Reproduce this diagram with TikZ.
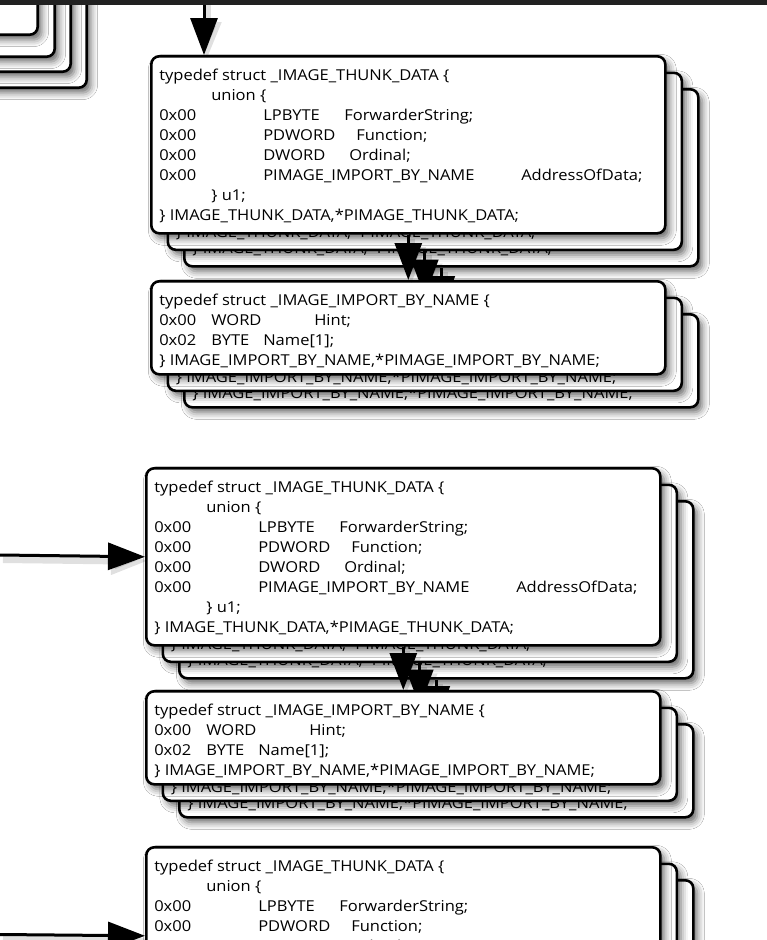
\documentclass[tikz,border=0pt]{standalone}
\usepackage{fontspec}
\setmainfont[FakeStretch=1.1]{Open Sans}
\usetikzlibrary{arrows.meta,shadows.blur}

\newcommand{\thunktext}{%
  \parbox[t]{498pt}{\fontsize{15pt}{20pt}\selectfont
    typedef struct \_IMAGE\_THUNK\_DATA \{\\
    \hspace*{52pt}union \{\\
    \makebox[104pt][l]{0x00}\makebox[81pt][l]{LPBYTE}ForwarderString;\\
    \makebox[104pt][l]{0x00}\makebox[93pt][l]{PDWORD}Function;\\
    \makebox[104pt][l]{0x00}\makebox[86pt][l]{DWORD}Ordinal;\\
    \makebox[104pt][l]{0x00}\makebox[258pt][l]{PIMAGE\_IMPORT\_BY\_NAME}AddressOfData;\\
    \hspace*{52pt}\} u1;\\
    \} IMAGE\_THUNK\_DATA,*PIMAGE\_THUNK\_DATA;}}

\newcommand{\nametext}{%
  \parbox[t]{498pt}{\fontsize{15pt}{20pt}\selectfont
    typedef struct \_IMAGE\_IMPORT\_BY\_NAME \{\\
    \makebox[52pt][l]{0x00}\makebox[103pt][l]{WORD}Hint;\\
    \makebox[52pt][l]{0x02}\makebox[52pt][l]{BYTE}Name[1];\\
    \} IMAGE\_IMPORT\_BY\_NAME,*PIMAGE\_IMPORT\_BY\_NAME;}}

\tikzset{
  structbox/.style={draw=black, line width=2.6pt, rounded corners=8pt, fill=white,
    inner xsep=8pt, inner ysep=0pt, anchor=north west,
    blur shadow={shadow xshift=4pt, shadow yshift=-5pt, shadow blur radius=7pt, shadow opacity=60}},
  thunkbox/.style={structbox, text height=24.5pt, text depth=152.5pt},
  namebox/.style={structbox, text height=24.5pt, text depth=68.5pt},
  ptr/.style={line width=3pt, -{Triangle[length=37pt,width=27pt]},
    preaction={draw=black, opacity=0.12, line width=8pt, transform canvas={shift={(3pt,-4pt)}}}}
}

\begin{document}
\begin{tikzpicture}[x=1pt, y=-1pt]
    \useasboundingbox (0,0) rectangle (767,940);
    \fill[white] (0,0) rectangle (767,940);

    % Stack cut off at the top left
    \node[structbox, anchor=south east, minimum width=300pt, minimum height=200pt] (L4) at (88,89) {};
    \node[structbox, anchor=south east, minimum width=300pt, minimum height=200pt] (L3) at (72,73) {};
    \node[structbox, anchor=south east, minimum width=300pt, minimum height=200pt] (L2) at (56,58) {};
    \node[structbox, anchor=south east, minimum width=300pt, minimum height=200pt] (L1) at (39,36) {};

    % First pair of stacks (back layers first)
    \node[thunkbox] (T1c) at (183,88) {\thunktext};
    \node[namebox] (I1c) at (183,313) {\nametext};
    \draw[ptr] (T1c) -- (I1c);
    \node[thunkbox] (T1b) at (166.5,71.5) {\thunktext};
    \node[namebox] (I1b) at (166.5,296.5) {\nametext};
    \draw[ptr] (T1b) -- (I1b);
    \node[thunkbox] (T1) at (150,55) {\thunktext};
    \node[namebox] (I1) at (150,280) {\nametext};
    \draw[ptr] (T1) -- (I1);

    % Second pair of stacks
    \node[thunkbox] (T2c) at (178,500) {\thunktext};
    \node[namebox] (I2c) at (178,723) {\nametext};
    \draw[ptr] (T2c) -- (I2c);
    \node[thunkbox] (T2b) at (161.5,483.5) {\thunktext};
    \node[namebox] (I2b) at (161.5,706.5) {\nametext};
    \draw[ptr] (T2b) -- (I2b);
    \node[thunkbox] (T2) at (145,467) {\thunktext};
    \node[namebox] (I2) at (145,690) {\nametext};
    \draw[ptr] (T2) -- (I2);

    % Third stack, cut off at the bottom
    \node[thunkbox] (T3c) at (178,879) {\thunktext};
    \node[thunkbox] (T3b) at (161.5,862.5) {\thunktext};
    \node[thunkbox] (T3) at (145,846) {\thunktext};

    % Incoming pointers
    \coordinate (top) at (204,0);
    \coordinate (in2) at (0,555);
    \coordinate (in3) at (0,934.5);
    \draw[ptr] (top) -- (top |- T1.north);
    \draw[ptr] (in2) -- (T2.west);
    \draw[ptr] (in3) -- (T3.west);

    % Dark band along the top edge
    \fill[black!87] (0,0) rectangle (767,5);
\end{tikzpicture}
\end{document}
